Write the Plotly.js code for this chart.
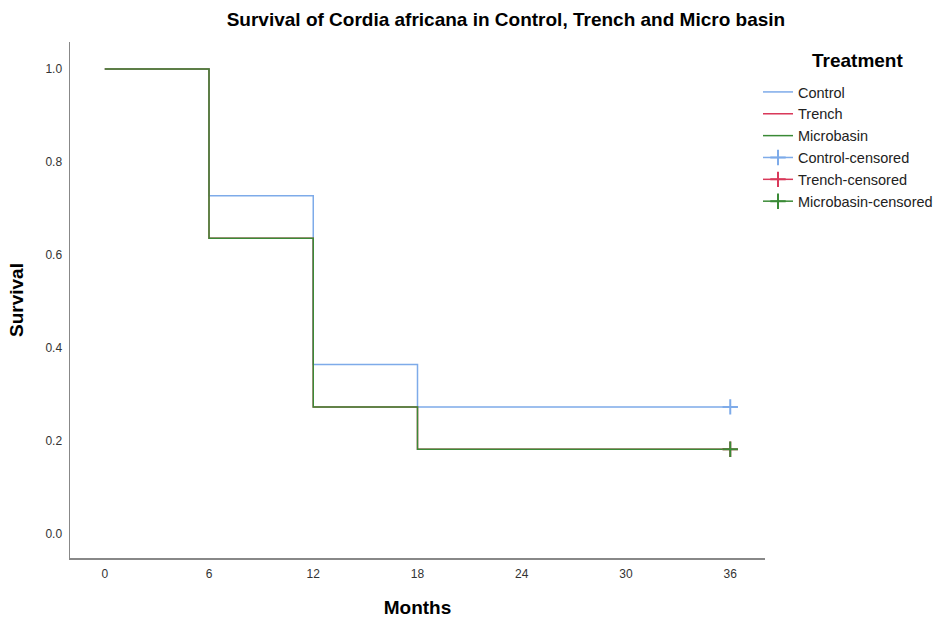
<!DOCTYPE html>
<html>
<head>
<meta charset="utf-8">
<script src="https://cdn.plot.ly/plotly-3.0.1.min.js"></script>
<style>html,body{margin:0;padding:0;background:#fff;}#chart{width:951px;height:618px;}</style>
</head>
<body>
<div id="chart"></div>
<script>
// Data
var months = [0, 6, 12, 18, 36];
var controlSurvival = [1.0, 0.727, 0.364, 0.273, 0.273];
var trenchSurvival = [1.0, 0.636, 0.273, 0.182, 0.182];
var microbasinSurvival = [1.0, 0.636, 0.273, 0.182, 0.182];
var censoredMonth = [36];
var controlCensored = [0.273];
var trenchCensored = [0.182];
var microbasinCensored = [0.182];
var xTicks = [0, 6, 12, 18, 24, 30, 36];
var yTicks = [0.0, 0.2, 0.4, 0.6, 0.8, 1.0];

var cBlue = '#7eabe9';
var cRed = '#d9395a';
var cGreen = '#3a8a36';

var font = 'Liberation Sans, Arial, sans-serif';

function stepTrace(name, y, color) {
  return {x: months, y: y, name: name, type: 'scatter', mode: 'lines',
    line: {shape: 'hv', color: color, width: 1.5}};
}
function censTrace(name, y, color) {
  return {x: censoredMonth, y: y, name: name, type: 'scatter', mode: 'lines+markers',
    line: {color: color, width: 1.5},
    marker: {symbol: 'cross-thin-open', size: 11, color: color, line: {color: color, width: 2}}};
}

var traces = [
  stepTrace('Control', controlSurvival, cBlue),
  stepTrace('Trench', trenchSurvival, cRed),
  stepTrace('Microbasin', microbasinSurvival, cGreen),
  censTrace('Control-censored', controlCensored, cBlue),
  censTrace('Trench-censored', trenchCensored, cRed),
  censTrace('Microbasin-censored', microbasinCensored, cGreen)
];

var layout = {
  width: 951, height: 618,
  paper_bgcolor: '#ffffff', plot_bgcolor: '#ffffff',
  margin: {l: 70, r: 186, t: 42, b: 60, pad: 0},
  font: {family: font, color: '#222'},
  title: {text: 'Survival of Cordia africana in Control, Trench and Micro basin',
    font: {family: font, size: 19, color: '#000', weight: 'bold'},
    xref: 'container', x: 0.532, xanchor: 'center', yref: 'container', y: 0.968, yanchor: 'middle'},
  xaxis: {range: [-2, 38], tickvals: xTicks, ticktext: xTicks.map(String),
    showgrid: false, zeroline: false, showline: true, linecolor: '#888', linewidth: 1.5,
    ticks: '', ticklabelstandoff: 4, tickfont: {size: 12, color: '#333', family: font},
    title: {text: 'Months', font: {size: 19, color: '#000', weight: 'bold', family: font}, standoff: 22}},
  yaxis: {range: [-0.052, 1.058], tickvals: yTicks, ticktext: yTicks.map(function(v){return v.toFixed(1);}),
    showgrid: false, zeroline: false, showline: true, linecolor: '#888', linewidth: 1.5,
    ticks: '', ticklabelstandoff: 4, tickfont: {size: 12, color: '#333', family: font},
    title: {text: 'Survival', font: {size: 19, color: '#000', weight: 'bold', family: font}, standoff: 17}},
  legend: {x: (758 - 70) / 695, xanchor: 'left', y: (558 - 76) / 516, yanchor: 'top', bgcolor: 'rgba(0,0,0,0)',
    font: {size: 14.5, color: '#222', family: font}, tracegroupgap: 0, itemwidth: 30},
  annotations: [{text: 'Treatment', xref: 'paper', yref: 'paper', x: (857 - 70) / 695, y: (558 - 61) / 516,
    xanchor: 'center', yanchor: 'middle', showarrow: false,
    font: {size: 19, color: '#000', weight: 'bold', family: font}}],
  showlegend: true
};

Plotly.newPlot('chart', traces, layout, {displayModeBar: false, staticPlot: true});
</script>
</body>
</html>
